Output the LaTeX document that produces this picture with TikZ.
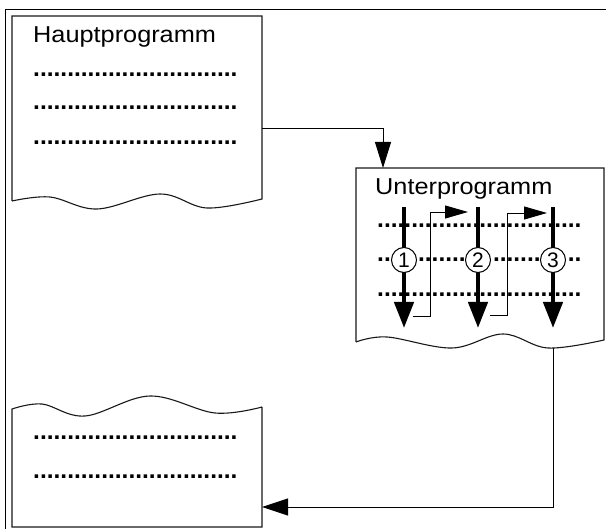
\documentclass[tikz,border=0pt]{standalone}
\usepackage{fontspec}
\setmainfont{Liberation Sans}
\usetikzlibrary{arrows.meta}
\tikzset{
  boxline/.style={line width=1.1pt, draw=black!90},
  conn/.style={line width=0.9pt, draw=black},
  tipbig/.style={-{Triangle[length=26pt,width=16pt]}},
  tipsmall/.style={-{Triangle[length=23pt,width=13pt]}},
  thickarrow/.style={line width=4.5pt, -{Triangle[length=26pt,width=19pt]}},
  dotrow/.style={anchor=base west, inner sep=0pt, font=\fontsize{24.5}{24.5}\selectfont\bfseries},
  title/.style={anchor=base west, inner sep=0pt, font=\fontsize{23}{23}\selectfont},
  numcirc/.style={circle, draw, fill=white, line width=1pt, minimum size=25pt, inner sep=0pt, font=\fontsize{21}{21}\selectfont},
}
\begin{document}
\begin{tikzpicture}[x=1pt, y=-1pt]
\useasboundingbox (0,0) rectangle (606,529);
% outer frame
\draw[line width=1pt] (5,545) -- (5,10) -- (620,10);

% Hauptprogramm box (wavy bottom)
\draw[boxline] (12,201) -- (12,16) -- (262,16) -- (262,199)
  -- plot[smooth, tension=0.6] coordinates {(262,199) (207,208) (160,194) (97,209) (50,197) (12,201)};
\node[title] (hp) at (33,43) {\scalebox{1.1}[1]{Hauptprogramm}};
\node[dotrow] (hd1) at (33,76.2) {..............................};
\node[dotrow] (hd2) at (33,109.5) {..............................};
\node[dotrow] (hd3) at (33,144.5) {..............................};
\coordinate (hpR) at (262,128);

% Unterprogramm box
\draw[boxline] (356,342) -- (356,168) -- (604,168) -- (604,340)
  -- plot[smooth, tension=0.6] coordinates {(604,340) (548,348) (503,334) (452,348) (387,337) (356,342)};
\coordinate (upT) at (383,168);
\coordinate (upB) at (553,348);
\node[title] (up) at (375,195) {\scalebox{1.1}[1]{Unterprogramm}};

% thick arrows
\coordinate (a1s) at (404,207); \coordinate (a1e) at (404,328);
\coordinate (a2s) at (478,207); \coordinate (a2e) at (478,328);
\coordinate (a3s) at (553,207); \coordinate (a3e) at (553,328);
\draw[thickarrow] (a1s) -- (a1e);
\draw[thickarrow] (a2s) -- (a2e);
\draw[thickarrow] (a3s) -- (a3e);

% dotted rows in Unterprogramm
\node[dotrow] (ud1) at (377,228) {..............................};
\node[dotrow] (ud2a) at (377,262) {..};
\node[dotrow] (ud2b) at (417.9,262) {.......};
\node[dotrow] (ud2c) at (492.8,262) {.......};
\node[dotrow] (ud2d) at (567.7,262) {..};
\node[dotrow] (ud3) at (377,297) {..............................};

% numbered circles
\node[numcirc] (n1) at (404,260) {1};
\node[numcirc] (n2) at (478,260) {2};
\node[numcirc] (n3) at (553,260) {3};

% thin connectors between the thick arrows
\coordinate (c1s) at (413,316); \coordinate (c1e) at (468,212);
\coordinate (c2s) at (490,315); \coordinate (c2e) at (547,213);
\draw[conn, tipsmall] (c1s) -- (430,316) |- (c1e);
\draw[conn, tipsmall] (c2s) -- (507,315) |- (c2e);

% lower box (wavy top)
\draw[boxline] (262,407) -- (262,527) -- (12,527) -- (12,409)
  -- plot[smooth, tension=0.6] coordinates {(12,409) (42,404) (85,416) (150,396) (215,413) (262,407)};
\node[dotrow] (ld1) at (33,439.2) {..............................};
\node[dotrow] (ld2) at (33,478.2) {..............................};
\coordinate (lbR) at (262,507);

% main connectors
\draw[conn, tipbig] (hpR) -| (upT);
\draw[conn, -{Triangle[length=26pt,width=17pt]}] (upB) |- (lbR);
\end{tikzpicture}
\end{document}
